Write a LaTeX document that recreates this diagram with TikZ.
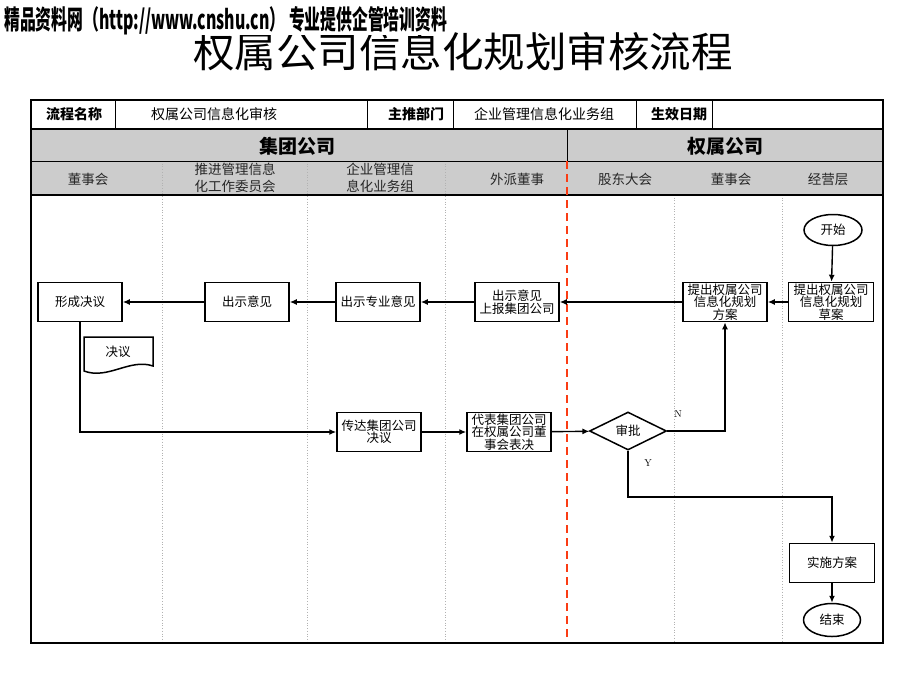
\documentclass[tikz,border=0pt]{standalone}
\usepackage{fontspec}
\usepackage{graphicx}
\usetikzlibrary{shapes.geometric,arrows.meta}
\newfontfamily\cjk{Noto Sans CJK SC}
\definecolor{hdrgray}{RGB}{204,204,204}
\definecolor{lanered}{RGB}{250,60,20}
\begin{document}
\begin{tikzpicture}[x=1pt,y=-1pt,
  box/.style={draw, line width=1.5pt, fill=white, minimum width=84pt, minimum height=39pt, inner sep=1pt, align=center, font=\cjk\fontsize{12.5}{12.5}\selectfont},
  term/.style={draw, ellipse, line width=1.5pt, fill=white, minimum width=58pt, minimum height=31pt, inner sep=0pt, font=\cjk\fontsize{12.5}{12.5}\selectfont},
  dia/.style={draw, diamond, aspect=2, line width=1.5pt, fill=white, minimum width=77pt, minimum height=38pt, inner sep=0pt, font=\cjk\fontsize{12.5}{12.5}\selectfont},
  flow/.style={line width=1.4pt, -{Latex[length=7pt,width=6pt]}},
  cell/.style={inner sep=0pt, font=\cjk\fontsize{14}{14}\selectfont},
  cellb/.style={inner sep=0pt, font=\cjk\bfseries\fontsize{14}{14}\selectfont},
  grp/.style={inner sep=0pt, font=\cjk\bfseries\fontsize{19}{19}\selectfont},
  lane/.style={inner sep=0pt, align=center, font=\cjk\fontsize{13.5}{16.5}\selectfont, text=black!85},
  lbl/.style={inner sep=0pt, font=\fontsize{10}{10}\selectfont},
  lanesep/.style={gray!60, dotted, line width=0.7pt}]
\useasboundingbox (0,0) rectangle (920,690);
\fill[white] (0,0) rectangle (920,690);

% title and watermark
\node[inner sep=0pt, font=\cjk\fontsize{41.5}{41.5}\selectfont] (title) at (463,52) {权属公司信息化规划审核流程};
\node[anchor=west, inner sep=0pt, fill=white] (wm) at (4,21) {\resizebox{443pt}{23pt}{\cjk\bfseries 精品资料网（http://www.cnshu.cn） 专业提供企管培训资料}};

% table background
\fill[hdrgray] (31,129) rectangle (883,195);
\foreach \x in {162,307,445} \draw[lanesep] (\x,161) -- (\x,643);
\foreach \x in {674,782} \draw[lanesep] (\x,195) -- (\x,643);
\draw[line width=0.8pt] (31,161) -- (883,161);
\draw[line width=2pt] (31,129) -- (883,129);
\draw[line width=2pt] (31,195) -- (883,195);
\draw[line width=0.8pt] (567,129) -- (567,161);
\foreach \x in {115,367,453,636,712} \draw[line width=0.8pt] (\x,100) -- (\x,129);
\draw[lanered, line width=2pt, dash pattern=on 8pt off 5pt] (567,161) -- (567,643);
\draw[line width=2.5pt] (31,100) rectangle (883,643);

% header row 1
\node[cellb] (h1) at (74,114) {流程名称};
\node[cell] (h2) at (214,114) {权属公司信息化审核};
\node[cellb] (h3) at (416,114) {主推部门};
\node[cell] (h4) at (544,114) {企业管理信息化业务组};
\node[cellb] (h5) at (679,114) {生效日期};
% header row 2
\node[grp] (g1) at (297,146) {集团公司};
\node[grp] (g2) at (725,146) {权属公司};
% lane headers
\node[lane] (l1) at (88,179) {董事会};
\node[lane] (l2) at (235,178) {推进管理信息\\化工作委员会};
\node[lane] (l3) at (380,178) {企业管理信\\息化业务组};
\node[lane] (l4) at (517,179) {外派董事};
\node[lane] (l5) at (625,179) {股东大会};
\node[lane] (l6) at (731,179) {董事会};
\node[lane] (l7) at (828,179) {经营层};

% flow nodes
\node[term] (ks) at (833,230) {开始};
\node[box, minimum width=85pt] (cao) at (831,302) {提出权属公司\\信息化规划\\草案};
\node[box] (fa) at (725,302) {提出权属公司\\信息化规划\\方案};
\node[box] (sb) at (517,302) {出示意见\\上报集团公司};
\node[box] (zy) at (378,302) {出示专业意见};
\node[box] (cs) at (247,302) {出示意见};
\node[box] (xc) at (80,302) {形成决议};
\node[box] (cd) at (379,432) {传达集团公司\\决议};
\node[box] (db) at (509,432) {代表集团公司\\在权属公司董\\事会表决};
\node[dia] (sp) at (628,431) {审批};
\node[box, minimum width=85pt] (ss) at (832,563) {实施方案};
\node[term, minimum width=57pt, minimum height=33pt] (js) at (832,620) {结束};

% document shape
\draw[line width=1.5pt, fill=white] (84,337) -- (153,337) -- (153,366) .. controls (130,358) and (108,380) .. (84,371) -- cycle;
\node[inner sep=0pt, font=\cjk\fontsize{12.5}{12.5}\selectfont] (jy) at (118,352) {决议};

% connectors
\coordinate (ybend) at (700,497);
\draw[flow] (ks) -- (cao);
\draw[flow] (cao) -- (fa);
\draw[flow] (fa) -- (sb);
\draw[flow] (sb) -- (zy);
\draw[flow] (zy) -- (cs);
\draw[flow] (cs) -- (xc);
\draw[flow] (xc.south) |- (cd.west);
\draw[flow] (cd) -- (db);
\draw[flow] (db) -- (sp);
\draw[flow] (sp.east) -| (fa.south);
\draw[flow] (sp.south) |- (ybend) -| (ss.north);
\draw[flow] (ss) -- (js);
\node[lbl] (nl) at (678,414) {N};
\node[lbl] (yl) at (648,463) {Y};
\end{tikzpicture}
\end{document}
